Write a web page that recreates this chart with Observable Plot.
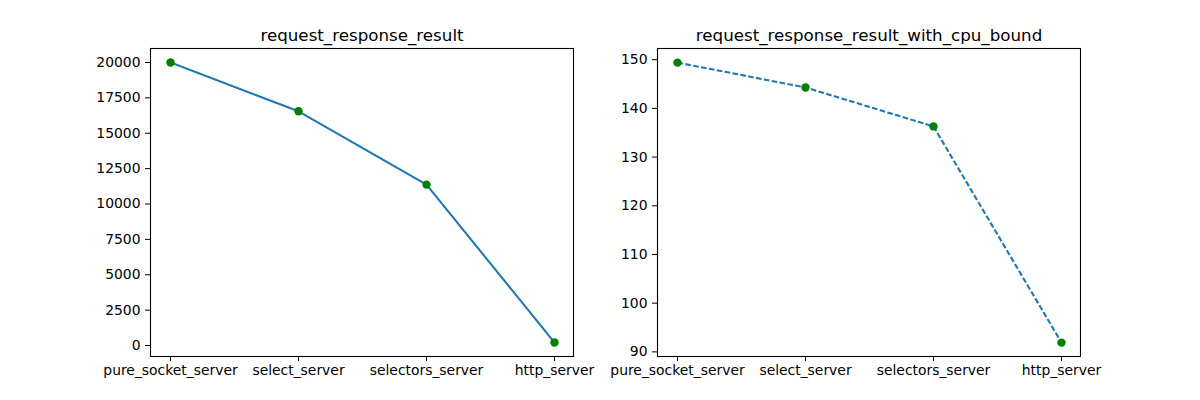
<!DOCTYPE html>
<html>
<head>
<meta charset="utf-8">
<script src="https://cdn.jsdelivr.net/npm/d3@7"></script>
<script src="https://cdn.jsdelivr.net/npm/@observablehq/plot@0.6"></script>
<style>
  html, body { margin: 0; padding: 0; background: #fff; }
  #wrap { position: relative; width: 1200px; height: 400px; }
  #wrap > svg { position: absolute; top: 0; }
</style>
</head>
<body>
<div id="wrap"></div>
<script>
const servers = ["pure_socket_server", "select_server", "selectors_server", "http_server"];
const requestResponse = [20000, 16550, 11370, 212];
const requestResponseCpu = [149.4, 144.3, 136.3, 91.9];
const leftTicks = [0, 2500, 5000, 7500, 10000, 12500, 15000, 17500, 20000];
const rightTicks = [90, 100, 110, 120, 130, 140, 150];
const titles = ["request_response_result", "request_response_result_with_cpu_bound"];

function makePlot(values, ticks, yDomain, title, dashed, ml, mr) {
  const data = servers.map((s, i) => ({server: s, value: values[i]}));
  return Plot.plot({
    width: 600,
    height: 400,
    marginLeft: ml,
    marginRight: mr,
    marginTop: 48,
    marginBottom: 44,
    style: {fontFamily: "DejaVu Sans", fontSize: "13.9px", color: "black", background: "white"},
    x: {type: "point", domain: servers, padding: 0.15, label: null},
    y: {domain: yDomain, label: null},
    marks: [
      Plot.axisX({ticks: servers, tickSize: 5, tickPadding: 4, fontSize: 13.9, label: null, stroke: "black"}),
      Plot.axisY({ticks: ticks, tickSize: 5, tickPadding: 5, fontSize: 13.9, label: null, tickFormat: d => String(d), stroke: "black"}),
      Plot.line(data, {x: "server", y: "value", stroke: "#1f77b4", strokeWidth: 2.08,
        strokeLinecap: dashed ? "butt" : "square", strokeLinejoin: "round",
        strokeDasharray: dashed ? "5.6 2.4" : undefined}),
      Plot.dot(data, {x: "server", y: "value", r: 4.2, fill: "#008000", stroke: "none"}),
      Plot.frame({stroke: "black", strokeWidth: 1.1}),
      Plot.text([title], {frameAnchor: "top", text: d => d, lineAnchor: "bottom", dy: -8, fontSize: 16.7, fill: "black"})
    ]
  });
}

const wrap = document.getElementById("wrap");
const p1 = makePlot(requestResponse, leftTicks, [-777, 20989], titles[0], false, 150, 27);
p1.style.left = "0px";
const p2 = makePlot(requestResponseCpu, rightTicks, [89.05, 152.3], titles[1], true, 57, 120);
p2.style.left = "600px";
wrap.appendChild(p1);
wrap.appendChild(p2);
</script>
</body>
</html>
